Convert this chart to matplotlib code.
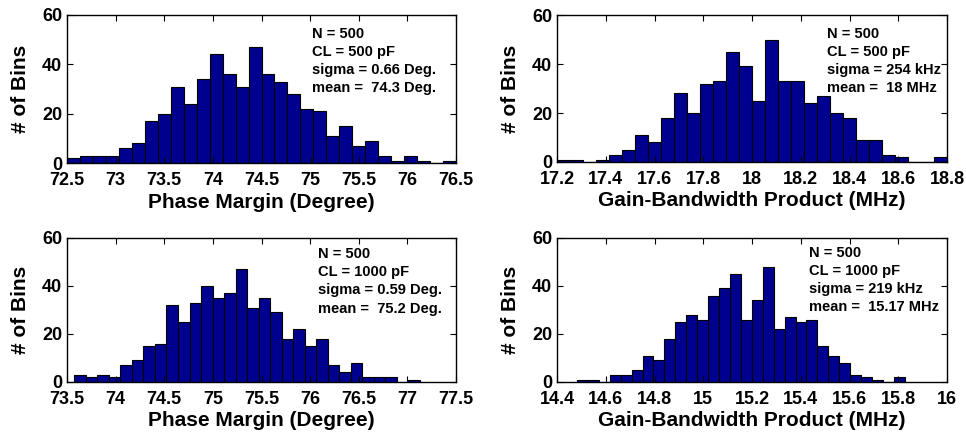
import numpy as np
import matplotlib
matplotlib.use("Agg")
import matplotlib.pyplot as plt

plt.rcParams['font.family'] = ['Liberation Sans', 'DejaVu Sans']
plt.rcParams['font.weight'] = 'bold'

# ---- data: bin counts (30 bins each) and bin range (first edge, last edge) ----
pm500_counts = [2, 3, 3, 3, 6, 8, 17, 20, 31, 24, 34, 44, 36, 31, 47,
                36, 33, 28, 22, 21, 11, 15, 7, 9, 3, 1, 3, 1, 0, 1]
pm500_range = (72.5, 76.5)

gbw500_counts = [1, 1, 0, 1, 3, 5, 11, 8, 18, 28, 20, 32, 33, 45, 39,
                 25, 50, 33, 33, 24, 27, 20, 18, 9, 9, 3, 2, 0, 0, 2]
gbw500_range = (17.2, 18.8)

pm1000_counts = [3, 2, 3, 2, 7, 9, 15, 16, 32, 25, 33, 40, 35, 37, 47,
                 31, 35, 29, 18, 22, 15, 18, 7, 4, 8, 2, 2, 2, 0, 1]
pm1000_range = (73.575, 77.13)

gbw1000_counts = [1, 1, 0, 3, 3, 5, 11, 9, 18, 25, 28, 26, 36, 39, 45,
                  26, 34, 48, 22, 27, 25, 26, 15, 11, 8, 3, 2, 1, 0, 2]
gbw1000_range = (14.482, 15.827)

pm500_ticks = [72.5, 73, 73.5, 74, 74.5, 75, 75.5, 76, 76.5]
gbw500_ticks = [17.2, 17.4, 17.6, 17.8, 18, 18.2, 18.4, 18.6, 18.8]
pm1000_ticks = [73.5, 74, 74.5, 75, 75.5, 76, 76.5, 77, 77.5]
gbw1000_ticks = [14.4, 14.6, 14.8, 15, 15.2, 15.4, 15.6, 15.8, 16]
y_ticks = [0, 20, 40, 60]

pm_label = 'Phase Margin (Degree)'
gbw_label = 'Gain-Bandwidth Product (MHz)'

notes = [
    'N = 500\nCL = 500 pF\nsigma = 0.66 Deg.\nmean =  74.3 Deg.',
    'N = 500\nCL = 500 pF\nsigma = 254 kHz\nmean =  18 MHz',
    'N = 500\nCL = 1000 pF\nsigma = 0.59 Deg.\nmean =  75.2 Deg.',
    'N = 500\nCL = 1000 pF\nsigma = 219 kHz\nmean =  15.17 MHz',
]

# ---- figure ----
W, H = 966, 434
fig = plt.figure(figsize=(W / 100, H / 100), dpi=100)

def px_axes(l, t, r, b):
    return fig.add_axes([l / W, 1 - b / H, (r - l) / W, (b - t) / H])

panels = [
    (px_axes(67, 15, 456, 163), pm500_counts, pm500_range, pm500_ticks, pm_label, notes[0], (0.63, 0.92)),
    (px_axes(557, 15, 947, 162), gbw500_counts, gbw500_range, gbw500_ticks, gbw_label, notes[1], (0.692, 0.92)),
    (px_axes(67, 238, 456, 382), pm1000_counts, pm1000_range, pm1000_ticks, pm_label, notes[2], (0.644, 0.935)),
    (px_axes(557, 238, 947, 382), gbw1000_counts, gbw1000_range, gbw1000_ticks, gbw_label, notes[3], (0.646, 0.945)),
]

for ax, counts, rng, ticks, xlabel, note, pos in panels:
    edges = np.linspace(rng[0], rng[1], len(counts) + 1)
    ax.bar(edges[:-1], counts, width=np.diff(edges), align='edge',
           color='#00008f', edgecolor='black', linewidth=0.8)
    ax.set_xlim(ticks[0], ticks[-1])
    ax.set_ylim(0, 60)
    ax.set_xticks(ticks)
    ax.set_xticklabels([f'{t:g}' for t in ticks])
    ax.set_yticks(y_ticks)
    ax.tick_params(direction='in', top=True, right=True, length=4,
                   labelsize=13, width=0.8)
    ax.tick_params(axis='x', pad=6.5)
    ax.tick_params(axis='y', pad=3.5)
    for sp in ax.spines.values():
        sp.set_linewidth(1.0)
    ax.set_xlabel(xlabel, fontsize=15, fontweight='bold', labelpad=2.5)
    ax.set_ylabel('# of Bins', fontsize=15, fontweight='bold')
    ax.yaxis.set_label_coords(-0.094, 0.5)
    ax.text(pos[0], pos[1], note, transform=ax.transAxes, ha='left', va='top',
            fontsize=10.5, fontweight='bold', linespacing=1.37)

fig.savefig('out.png', dpi=100)
